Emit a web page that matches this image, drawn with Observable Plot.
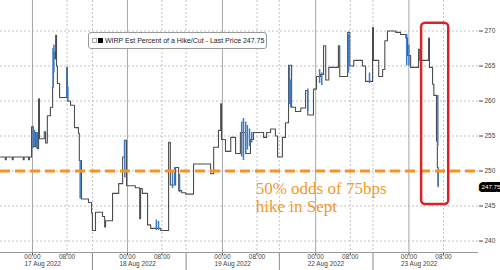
<!DOCTYPE html>
<html><head><meta charset="utf-8">
<script src="https://cdn.jsdelivr.net/npm/d3@7"></script>
<script src="https://cdn.jsdelivr.net/npm/@observablehq/plot@0.6"></script>
<style>
body{margin:0;background:#fff;}
#wrap{position:relative;width:500px;height:270px;overflow:hidden;}
#legend{position:absolute;left:88px;top:32px;width:177px;height:15px;border:1px solid #9a9a9a;border-radius:3px;background:#fff;font:7px "Liberation Sans",sans-serif;color:#222;display:flex;align-items:center;box-sizing:content-box;}
#legend .h{width:3px;height:3px;border:1px solid #aaa;margin-left:3px;}
#legend .b{width:5px;height:5px;background:#000;margin-left:1px;margin-right:2px;}
</style></head>
<body><div id="wrap"><div id="chart"></div><div id="legend"><span class="h"></span><span class="b"></span><span>WIRP Est Percent of a Hike/Cut - Last Price 247.75</span></div></div>
<script>
// compressed session hours, 0 = 00:00 17 Aug 2022
const stepT = [-7.3,-6.2,-6.0,-4.6,-4.4,-2.1,-1.9,-0.9,-0.7,-0.2,0.2,0.7,1.1,1.4,1.6,2.7,3.0,3.4,4.1,4.6,4.8,5.1,5.3,5.5,5.7,6.2,7.8,8.0,8.7,9.6,10.5,10.7,11.2,12.8,13.5,13.7,14.4,16.0,16.5,16.7,18.3,19.7,20.6,21.0,21.5,23.5,24.5,24.7,25.1,26.3,27.0,29.3,31.1,31.5,32.7,33.4,34.1,35.0,36.8,40.7,41.4,42.5,43.0,43.2,44.1,45.3,46.4,47.5,48.7,49.8,50.5,52.8,53.5,54.4,55.5,56.0,57.1,57.8,58.5,59.2,60.1,61.3,62.4,62.9,64.2,64.9,65.8,66.5,67.0,67.7,69.9,70.2,72.0,72.5,73.4,75.4,76.1,77.7,77.9,79.1,80.0,80.5,81.1,83.0,84.1,85.3,85.7,86.4,88.2,88.5,90.5,90.7,91.4,91.7,92.3,92.5,92.7];
const stepV = [252.0,251.6,252.0,251.6,252.0,251.6,252.0,251.6,252.0,256.3,253.5,255.5,253.2,260.3,254.6,255.6,254.0,257.9,259.1,262.0,267.0,266.0,269.4,265.0,262.5,260.5,264.8,260.0,259.4,256.2,255.4,251.5,246.0,245.5,244.0,241.5,244.1,243.5,242.0,242.9,246.8,248.2,252.0,254.4,247.9,247.6,243.2,247.5,246.8,242.3,241.8,241.5,254.1,248.0,250.5,247.2,246.9,246.7,251.0,249.6,253.4,255.8,259.6,254.5,252.8,254.8,252.5,255.5,252.5,254.5,255.5,254.8,255.5,256.0,255.0,252.0,254.8,256.9,265.1,259.1,258.5,259.0,261.5,258.0,261.7,263.5,263.8,267.9,263.0,264.8,267.9,263.5,269.8,265.0,265.8,265.0,262.8,270.5,265.8,263.5,264.5,268.6,270.0,269.8,269.5,269.0,266.5,264.8,267.4,265.8,269.0,264.8,262.4,260.8,254.3,250.5,247.75];
// blue intraday high/low bars
const barT  = [0.2,0.5,0.9,4.7,4.9,7.9,8.1,10.9,21.1,28.3,28.8,32.0,32.5,33.6,47.8,48.2,48.7,49.1,49.6,50.1,58.7,59.0,62.9,65.6,66.1,72.2,77.0,85.5,86.0,92.6,92.65];
const barLo = [253.2,253.5,253.2,262.0,264.0,260.5,260.0,246.0,249.0,241.5,241.5,247.5,248.0,246.9,252.0,251.5,252.5,253.0,253.5,254.0,259.5,259.0,258.5,262.5,262.2,264.0,262.5,265.0,265.0,253.5,247.75];
const barHi = [256.3,255.8,255.5,267.5,268.0,264.8,262.0,251.5,254.4,243.0,242.8,250.0,250.5,249.5,257.0,257.5,257.0,256.5,256.0,255.5,265.0,263.0,261.7,264.5,264.0,269.5,264.0,269.5,268.0,260.8,250.0];

const dayStarts = [0, 21.7, 43.4, 64.7, 86.0];
const dayLabels = ["17 Aug 2022","18 Aug 2022","19 Aug 2022","22 Aug 2022","23 Aug 2022"];
const hour8 = [7.9, 29.6, 51.3, 72.6, 93.9];
const separators = [13.7, 35.1, 56.4, 77.8];
const yTicks = [240,245,250,255,260,265,270];
const xDomain = [-7.3, 101.9];
const yDomain = [238.36, 274.36];
const thresholdValue = 250;
const lastPrice = 247.75;
const annotation = {t: 51.0, v: 250, label: "50% odds of 75bps\nhike in Sept"};
const highlight = {t1: 88.9, t2: 95.1, v1: 245.2, v2: 271.1};

const series = stepT.map((t,i)=>({t, v: stepV[i]}));
const bars = barT.map((t,i)=>({t, lo: barLo[i], hi: barHi[i]}));
const timeTicks = dayStarts.flatMap((d,i)=>[{t: d, label: "00:00"}, {t: hour8[i], label: "08:00"}]);

const chart = Plot.plot({
  width: 500, height: 270,
  marginLeft: 0, marginRight: 22, marginTop: 0, marginBottom: 18,
  style: {fontFamily: "Liberation Sans, sans-serif", fontSize: "6.5px", color: "#444", background: "white"},
  x: {domain: xDomain, axis: "bottom", ticks: timeTicks.map(d => d.t), tickFormat: () => "", tickSize: 3, label: null},
  y: {domain: yDomain, axis: "right", ticks: yTicks, tickSize: 4, tickPadding: 2, tickFormat: d => String(d), label: null},
  marks: [
    Plot.ruleY(yTicks, {stroke: "#c2c2c2", strokeDasharray: "2,2"}),
    Plot.ruleX(hour8, {stroke: "#c2c2c2", strokeDasharray: "2,2"}),
    Plot.ruleX(separators, {stroke: "#c2c2c2", strokeDasharray: "2,2"}),
    Plot.ruleX(separators, {y1: yDomain[0], y2: yDomain[0] - 2.6, stroke: "#888"}),
    Plot.ruleX(dayStarts, {stroke: "#a6a6a6"}),
    Plot.ruleY([yDomain[0]], {stroke: "#999"}),
    Plot.line(series, {x: "t", y: "v", curve: "step-after", stroke: "#4d4d4d", strokeWidth: 1.1}),
    Plot.ruleX(bars, {x: "t", y1: "lo", y2: "hi", stroke: "#3b7bc8", strokeWidth: 1.5}),
    Plot.ruleY([thresholdValue], {stroke: "#f7941d", strokeWidth: 3, strokeDasharray: "10,5"}),
    Plot.text([annotation], {x: "t", y: "v", text: "label", textAnchor: "start", lineAnchor: "top", dy: 10, fontSize: 17, fontFamily: "Liberation Serif, serif", fill: "#f29a2e", lineHeight: 1.08}),
    Plot.rect([highlight], {x1: "t1", x2: "t2", y1: "v1", y2: "v2", fill: "none", stroke: "#d8232a", strokeWidth: 2.5, rx: 4}),
    Plot.text([lastPrice], {y: d => d, text: d => d.toFixed(2), frameAnchor: "right", textAnchor: "start", dx: 3, fill: "white", stroke: "#000", strokeWidth: 6, fontSize: 6.2}),
    Plot.text(timeTicks, {x: "t", text: "label", frameAnchor: "bottom", dy: 6, fill: "#444", fontSize: 6.5}),
    Plot.text(dayStarts, {x: d => d, text: (d,i) => dayLabels[i], frameAnchor: "bottom", textAnchor: "start", dx: -8, dy: 13.5, fill: "#444", fontSize: 6.5})
  ]
});
document.getElementById("chart").appendChild(chart);
</script>
</body></html>
